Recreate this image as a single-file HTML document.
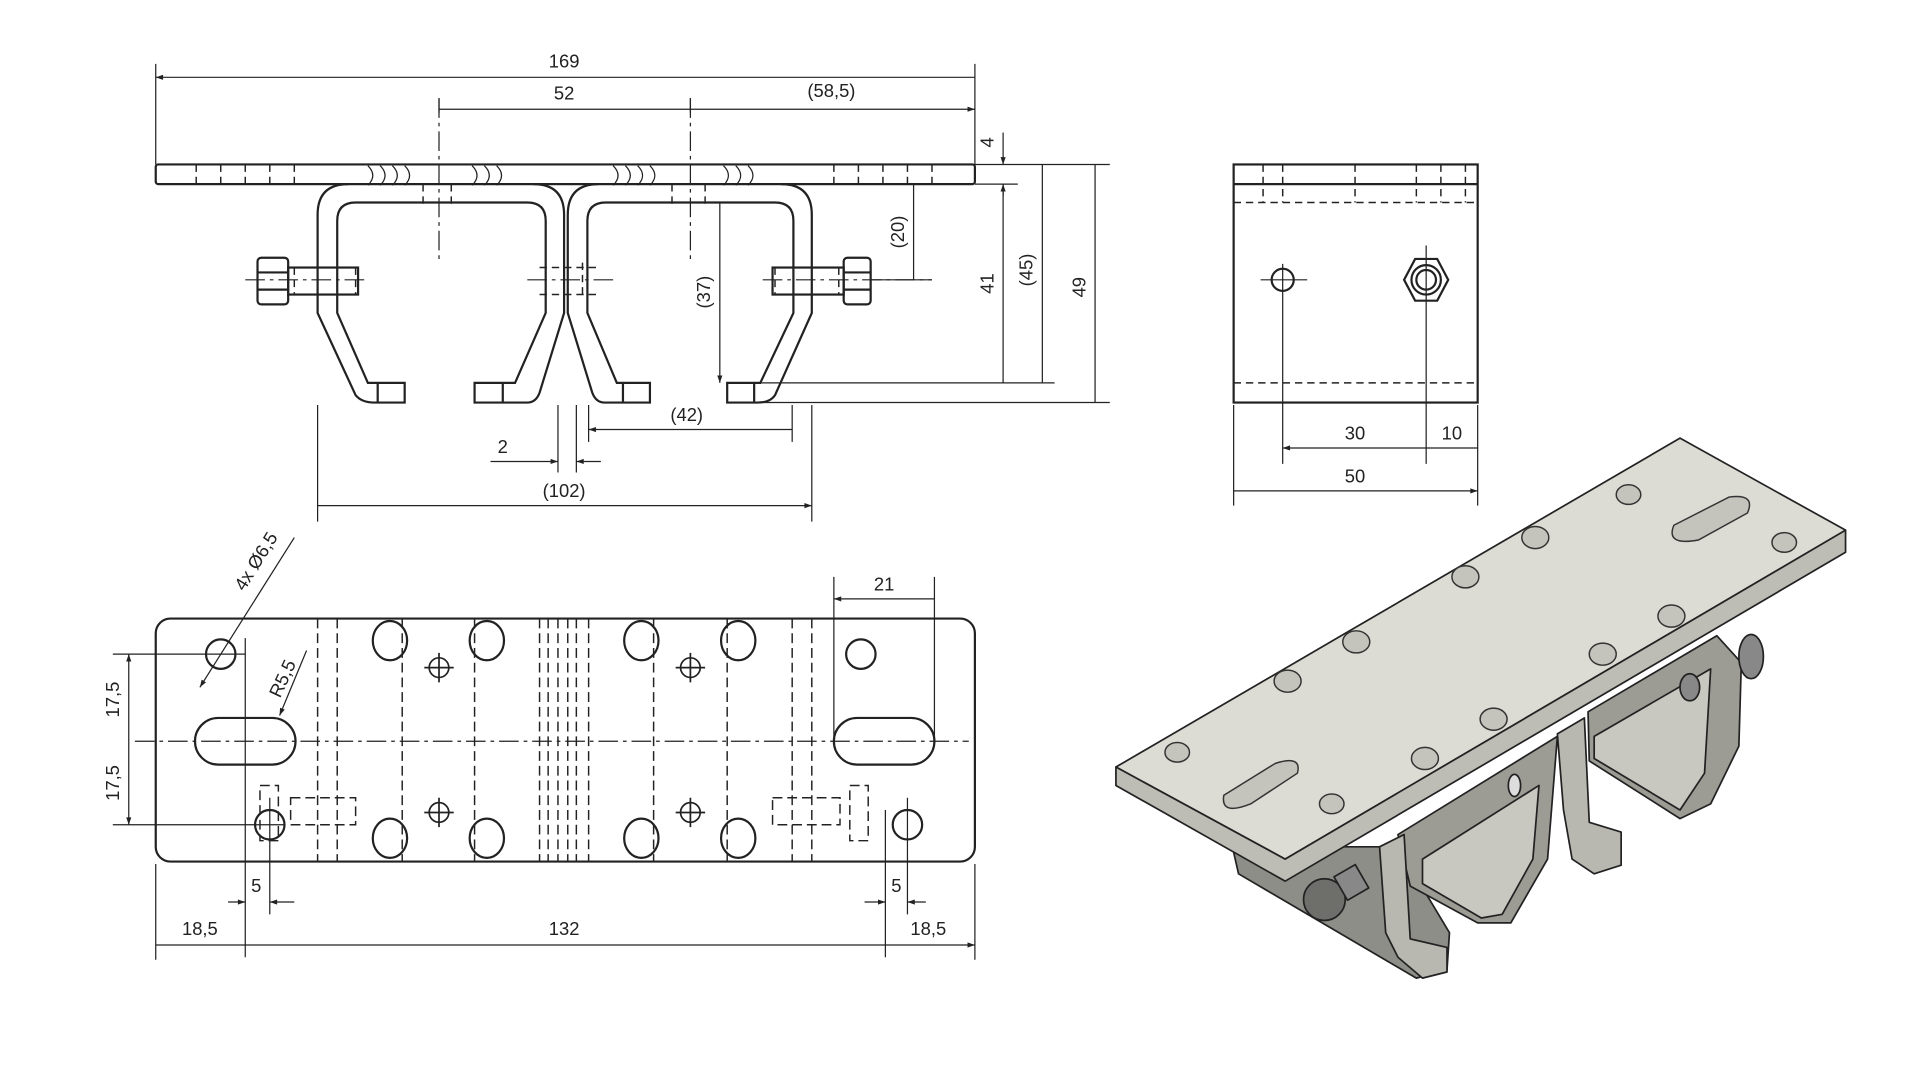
<!DOCTYPE html>
<html><head><meta charset="utf-8"><style>
html,body{margin:0;padding:0;background:#fff;}
svg{display:block;}
text{font-family:"Liberation Sans",sans-serif;font-size:15px;fill:#222;}
</style></head><body>
<svg width="1913" height="1080" viewBox="0 0 1560 880" preserveAspectRatio="none" xmlns="http://www.w3.org/2000/svg">
<defs>
<marker id="a" viewBox="0 0 10 10" refX="10" refY="5" markerWidth="9" markerHeight="6" orient="auto-start-reverse" markerUnits="userSpaceOnUse"><path d="M0,1.5 L10,5 L0,8.5z" fill="#222"/></marker>
</defs>
<g stroke="#222" fill="none" stroke-width="1.8">
<!-- front view plate -->
<rect x="127" y="134" width="668" height="16" rx="2"/>
<!-- left channel -->
<path d="M284,150 Q259,150 259,175 L259,255 L290,322 Q295,328 305,328 L330,328 L330,312 L300,312 L275,255 L275,180 Q275,165 290,165 L430,165 Q445,165 445,180 L445,255 L420,312 L387,312 L387,328 L430,328 Q437,328 440,320 L460,255 L460,175 Q460,150 435,150"/>
<path d="M308,312 V328 M410,312 V328"/>
<!-- right channel -->
<path d="M488,150 Q463,150 463,175 L463,255 L483,320 Q486,328 493,328 L530,328 L530,312 L503,312 L479,255 L479,180 Q479,165 494,165 L632,165 Q647,165 647,180 L647,255 L620,312 L593,312 L593,328 L618,328 Q628,328 632,322 L662,255 L662,175 Q662,150 637,150"/>
<path d="M508,312 V328 M615,312 V328"/>
<!-- bolts -->
<rect x="210" y="210" width="25" height="38" rx="3"/><path d="M210,222 H235 M210,236 H235"/>
<rect x="235" y="218" width="57" height="22"/>
<rect x="688" y="210" width="22" height="38" rx="3"/><path d="M688,222 H710 M688,236 H710"/>
<rect x="630" y="218" width="58" height="22"/>
</g>
<g stroke="#222" fill="none" stroke-width="1.2" stroke-dasharray="6,4">
<path d="M440,218 H490 M440,240 H490 M445,214 V244 M460,214 V244 M475,214 V244"/>
<path d="M160,134 V150 M180,134 V150 M200,134 V150 M220,134 V150 M240,134 V150 M680,134 V150 M700,134 V150 M720,134 V150 M740,134 V150 M760,134 V150"/>
<path d="M345,150 V166 M368,150 V166 M548,150 V166 M575,150 V166"/>
<path d="M240,218 V240 M290,218 V240 M632,218 V240 M684,218 V240"/>
</g>
<g stroke="#222" stroke-width="1" fill="none">
<path d="M300,135 q8,8 0,16 M310,135 q8,8 0,16 M320,135 q8,8 0,16 M330,135 q8,8 0,16 M385,135 q8,8 0,16 M395,135 q8,8 0,16 M405,135 q8,8 0,16 M500,135 q8,8 0,16 M510,135 q8,8 0,16 M520,135 q8,8 0,16 M530,135 q8,8 0,16 M590,135 q8,8 0,16 M600,135 q8,8 0,16 M610,135 q8,8 0,16"/>
<path d="M358,80 V215 M563,80 V215" stroke-dasharray="16,4,3,4"/>
<path d="M200,228 H300 M430,228 H500 M622,228 H760" stroke-dasharray="16,4,3,4"/>
</g>
<!-- dimensions front -->
<g stroke="#222" stroke-width="1" fill="none">
<path d="M127,52 V134 M795,52 V134 M358,80 V92 M563,80 V92"/>
<path d="M127,63 H795 M358,89 H563 M563,89 H795" marker-start="url(#a)" marker-end="url(#a)"/>
<path d="M795,134 H905 M795,150 H830 M600,312 H860 M610,328 H905 M710,228 H760"/>
<path d="M818,150 V312 M850,134 V312 M893,134 V328 M745,150 V228 M587,165 V312" marker-start="url(#a)" marker-end="url(#a)"/>
<path d="M818,108 V134" marker-end="url(#a)"/><path d="M818,150 V160"/>
<path d="M259,330 V425 M662,330 V425 M480,330 V360 M646,330 V360 M455,330 V385 M470,330 V385"/>
<path d="M480,350 H646 M259,412 H662" marker-start="url(#a)" marker-end="url(#a)"/>
<path d="M400,376 H455" marker-end="url(#a)"/><path d="M490,376 H470" marker-end="url(#a)"/>
</g>
<text x="460" y="55" text-anchor="middle">169</text>
<text x="460" y="81" text-anchor="middle">52</text>
<text x="678" y="79" text-anchor="middle">(58,5)</text>
<text x="560" y="343" text-anchor="middle">(42)</text>
<text x="410" y="369" text-anchor="middle">2</text>
<text x="460" y="405" text-anchor="middle">(102)</text>
<text transform="translate(810,116) rotate(-90)" text-anchor="middle">4</text>
<text transform="translate(810,231) rotate(-90)" text-anchor="middle">41</text>
<text transform="translate(842,220) rotate(-90)" text-anchor="middle">(45)</text>
<text transform="translate(885,234) rotate(-90)" text-anchor="middle">49</text>
<text transform="translate(737,189) rotate(-90)" text-anchor="middle">(20)</text>
<text transform="translate(579,238) rotate(-90)" text-anchor="middle">(37)</text>
<!-- side view -->
<g stroke="#222" fill="none" stroke-width="1.8">
<rect x="1006" y="134" width="199" height="194"/>
<path d="M1006,150 H1205"/>
<circle cx="1046" cy="228" r="9"/>
<polygon points="1145,228 1154,211 1172,211 1181,228 1172,245 1154,245"/>
<circle cx="1163" cy="228" r="12"/><circle cx="1163" cy="228" r="8"/>
</g>
<g stroke="#222" fill="none" stroke-width="1.2" stroke-dasharray="6,4">
<path d="M1006,165 H1205 M1006,312 H1205 M1030,134 V165 M1046,134 V165 M1105,134 V165 M1155,134 V165 M1175,134 V165 M1195,134 V165"/>
</g>
<g stroke="#222" stroke-width="1" fill="none">
<path d="M1046,215 V378 M1163,240 V378 M1006,330 V412 M1205,330 V412 M1028,228 H1066 M1163,200 V260"/>
<path d="M1046,365 H1163 M1163,365 H1205 M1006,400 H1205" marker-start="url(#a)" marker-end="url(#a)"/>
</g>
<text x="1105" y="358" text-anchor="middle">30</text>
<text x="1184" y="358" text-anchor="middle">10</text>
<text x="1105" y="393" text-anchor="middle">50</text>
<!-- plan view -->
<g stroke="#222" fill="none" stroke-width="1.8">
<rect x="127" y="504" width="668" height="198" rx="12"/>
<circle cx="180" cy="533" r="12"/><circle cx="702" cy="533" r="12"/>
<circle cx="220" cy="672" r="12"/><circle cx="740" cy="672" r="12"/>
<rect x="159" y="585" width="82" height="38" rx="19"/>
<rect x="680" y="585" width="82" height="38" rx="19"/>
<ellipse cx="318" cy="522" rx="14" ry="16"/><ellipse cx="397" cy="522" rx="14" ry="16"/>
<ellipse cx="523" cy="522" rx="14" ry="16"/><ellipse cx="602" cy="522" rx="14" ry="16"/>
<ellipse cx="318" cy="683" rx="14" ry="16"/><ellipse cx="397" cy="683" rx="14" ry="16"/>
<ellipse cx="523" cy="683" rx="14" ry="16"/><ellipse cx="602" cy="683" rx="14" ry="16"/>
</g>
<g stroke="#222" fill="none" stroke-width="1.4">
<circle cx="358" cy="544" r="8"/><circle cx="563" cy="544" r="8"/>
<circle cx="358" cy="662" r="8"/><circle cx="563" cy="662" r="8"/>
<path d="M346,544 H370 M358,532 V556 M551,544 H575 M563,532 V556 M346,662 H370 M358,650 V674 M551,662 H575 M563,650 V674"/>
</g>
<g stroke="#222" fill="none" stroke-width="1.2" stroke-dasharray="8,4">
<path d="M259,504 V702 M275,504 V702 M328,504 V702 M387,504 V702 M440,504 V702 M447,504 V702 M455,504 V702 M463,504 V702 M470,504 V702 M480,504 V702 M533,504 V702 M593,504 V702 M646,504 V702 M662,504 V702"/>
<rect x="237" y="650" width="53" height="22"/><rect x="630" y="650" width="55" height="22"/>
<rect x="212" y="640" width="15" height="45"/><rect x="693" y="640" width="15" height="45"/>
</g>
<g stroke="#222" stroke-width="1" fill="none">
<path d="M110,604 H790" stroke-dasharray="16,4,3,4"/>
<path d="M92,533 H200 M92,672 H232 M200,520 V780 M220,650 V745 M722,660 V780 M740,650 V745 M127,704 V782 M795,704 V782 M680,470 V600 M762,470 V600"/>
<path d="M105,533 V604 M105,604 V672" marker-start="url(#a)" marker-end="url(#a)"/>
<path d="M680,488 H762 M127,770 H200 M200,770 H722 M722,770 H795" marker-start="url(#a)" marker-end="url(#a)"/>
<path d="M186,735 H200" marker-end="url(#a)"/><path d="M240,735 H220" marker-end="url(#a)"/>
<path d="M705,735 H722" marker-end="url(#a)"/><path d="M755,735 H740" marker-end="url(#a)"/>
<path d="M240,438 L163,560" marker-end="url(#a)"/>
<path d="M250,530 L228,583" marker-end="url(#a)"/>
</g>
<text x="721" y="481" text-anchor="middle">21</text>
<text x="209" y="727" text-anchor="middle">5</text>
<text x="731" y="727" text-anchor="middle">5</text>
<text x="163" y="762" text-anchor="middle">18,5</text>
<text x="460" y="762" text-anchor="middle">132</text>
<text x="757" y="762" text-anchor="middle">18,5</text>
<text transform="translate(97,570) rotate(-90)" text-anchor="middle">17,5</text>
<text transform="translate(97,638) rotate(-90)" text-anchor="middle">17,5</text>
<text transform="translate(213,460) rotate(-58)" text-anchor="middle">4x Ø6,5</text>
<text transform="translate(235,555) rotate(-65)" text-anchor="middle">R5,5</text>
<!-- iso view -->
<g stroke="#222" stroke-width="1.4" stroke-linejoin="round">
<polygon points="1005,690 1010,712 1155,797 1180,790 1182,760 1140,690" fill="#8e8e88"/>
<polygon points="1140,680 1270,600 1262,700 1232,752 1205,752 1150,722" fill="#9c9c95"/>
<polygon points="1160,700 1255,640 1250,700 1225,745 1208,748 1160,720" fill="#c8c8c0"/>
<polygon points="1125,690 1145,680 1150,765 1180,772 1180,792 1160,797 1140,780 1130,760" fill="#b8b8b0"/>
<polygon points="1270,598 1292,585 1296,670 1322,678 1322,705 1300,712 1282,700 1275,660" fill="#b8b8b0"/>
<polygon points="1295,580 1400,518 1420,540 1418,608 1395,655 1370,667 1296,620" fill="#9c9c95"/>
<polygon points="1300,600 1395,545 1390,630 1370,660 1300,618" fill="#c8c8c0"/>
<polygon points="910,625 1370,357 1505,432 1048,700" fill="#dcdcd4"/>
<polygon points="910,625 910,640 1048,718 1505,450 1505,432 1048,700" fill="#bdbdb5"/>
<circle cx="1080" cy="733" r="17" fill="#6e6e6a"/>
<rect x="1092" y="708" width="20" height="22" fill="#888" transform="rotate(-30 1102 719)"/>
<ellipse cx="1428" cy="535" rx="10" ry="18" fill="#888"/>
<ellipse cx="1378" cy="560" rx="8" ry="11" fill="#888"/>
<ellipse cx="1235" cy="640" rx="5" ry="9" fill="#ddd"/>
</g>
<g stroke="#333" stroke-width="1.2" fill="#c4c4bc">
<ellipse cx="960" cy="613" rx="10" ry="8"/><ellipse cx="1086" cy="655" rx="10" ry="8"/>
<ellipse cx="1328" cy="403" rx="10" ry="8"/><ellipse cx="1455" cy="442" rx="10" ry="8"/>
<ellipse cx="1050" cy="555" rx="11" ry="9"/><ellipse cx="1106" cy="523" rx="11" ry="9"/>
<ellipse cx="1195" cy="470" rx="11" ry="9"/><ellipse cx="1252" cy="438" rx="11" ry="9"/>
<ellipse cx="1162" cy="618" rx="11" ry="9"/><ellipse cx="1218" cy="586" rx="11" ry="9"/>
<ellipse cx="1307" cy="533" rx="11" ry="9"/><ellipse cx="1363" cy="502" rx="11" ry="9"/>
<path d="M998,648 L1040,622 Q1062,615 1058,630 L1020,655 Q995,665 998,648z"/>
<path d="M1365,428 L1410,405 Q1432,402 1425,418 L1385,440 Q1358,445 1365,428z"/>
</g>
</svg>
</body></html>
